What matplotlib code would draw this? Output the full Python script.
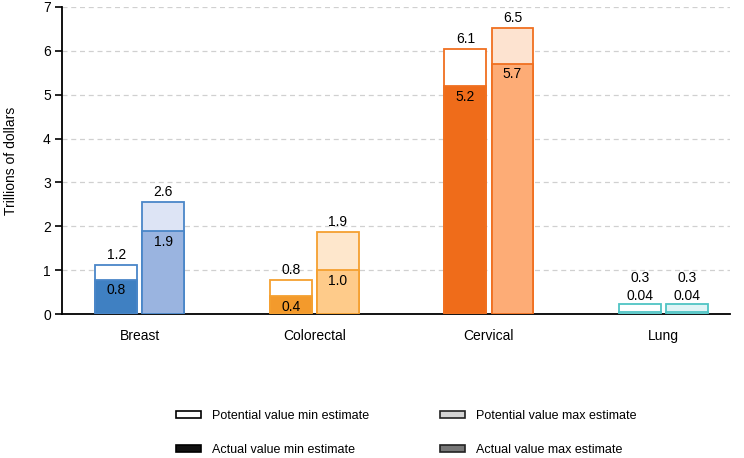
import matplotlib.pyplot as plt
from matplotlib.patches import Patch
import numpy as np

plt.rcParams["font.family"] = ["Liberation Sans Narrow", "Liberation Sans", "DejaVu Sans"]

categories = ["Breast", "Colorectal", "Cervical", "Lung"]
potential_min = [1.13, 0.78, 6.03, 0.23]
actual_min = [0.78, 0.41, 5.19, 0.04]
potential_max = [2.55, 1.87, 6.52, 0.23]
actual_max = [1.89, 1.00, 5.70, 0.04]
potential_min_labels = ["1.2", "0.8", "6.1", "0.3"]
actual_min_labels = ["0.8", "0.4", "5.2", "0.04"]
potential_max_labels = ["2.6", "1.9", "6.5", "0.3"]
actual_max_labels = ["1.9", "1.0", "5.7", "0.04"]

edge_colors = ["#4a86c8", "#f5a030", "#f07020", "#4fc4c4"]
min_pot_fill = ["#ffffff", "#ffffff", "#ffffff", "#ffffff"]
min_act_fill = ["#3f80c2", "#f39a2c", "#ef6c1a", "#ffffff"]
max_pot_fill = ["#dde4f5", "#fee7cc", "#fde3d0", "#e0f4f6"]
max_act_fill = ["#9ab4e0", "#fecb8a", "#fdac76", "#e0f4f6"]

fig = plt.figure(figsize=(7.44, 4.58), dpi=100)
ax = fig.add_axes([0.0833, 0.314, 0.8977, 0.671])

x = np.arange(len(categories))
width = 0.24
offset = 0.135
fs = 10


def draw_pair(xs, pot, act, pot_fill, act_fill, pot_lab, act_lab):
    ax.bar(xs, pot, width, color=pot_fill, edgecolor=edge_colors, linewidth=1.3, zorder=2)
    ax.bar(xs, act, width, color=act_fill, edgecolor=edge_colors, linewidth=1.3, zorder=3)
    for xi, p, a, pl, al in zip(xs, pot, act, pot_lab, act_lab):
        if a > 0.3:
            ax.text(xi, a - 0.08, al, ha="center", va="top", fontsize=fs, zorder=4)
            ax.text(xi, p + 0.07, pl, ha="center", va="bottom", fontsize=fs, zorder=4)
        else:
            ax.text(xi, p + 0.03, al, ha="center", va="bottom", fontsize=fs, zorder=4)
            ax.text(xi, p + 0.43, pl, ha="center", va="bottom", fontsize=fs, zorder=4)


draw_pair(x - offset, potential_min, actual_min, min_pot_fill, min_act_fill,
          potential_min_labels, actual_min_labels)
draw_pair(x + offset, potential_max, actual_max, max_pot_fill, max_act_fill,
          potential_max_labels, actual_max_labels)

ax.set_xlim(-0.446, 3.38)
ax.set_ylim(0, 7)
ax.set_yticks(range(0, 8))
ax.set_xticks(x, categories)
ax.tick_params(axis="x", length=0, pad=11, labelsize=fs)
ax.tick_params(axis="y", length=5, width=1.2, labelsize=fs, pad=3)
ax.set_ylabel("Trillions of dollars", fontsize=fs, labelpad=18)
ax.grid(axis="y", linestyle=(0, (4, 3)), color="#d0d0d0", linewidth=0.9, zorder=0)
ax.set_axisbelow(True)
ax.spines["top"].set_visible(False)
ax.spines["right"].set_visible(False)
ax.spines["left"].set_linewidth(1.3)
ax.spines["bottom"].set_linewidth(1.3)

handles = [
    Patch(facecolor="white", edgecolor="black", linewidth=1.2, label="Potential value min estimate"),
    Patch(facecolor="#111111", edgecolor="black", linewidth=1.2, label="Actual value min estimate"),
    Patch(facecolor="#d4d4d4", edgecolor="#222222", linewidth=1.2, label="Potential value max estimate"),
    Patch(facecolor="#777777", edgecolor="#222222", linewidth=1.2, label="Actual value max estimate"),
]
fig.legend(handles=handles, loc="upper left", bbox_to_anchor=(0.236, 0.104), ncol=2,
           frameon=False, fontsize=9, handlelength=2.0, handleheight=0.5,
           handletextpad=0.9, columnspacing=5.7, labelspacing=1.75, borderpad=0, borderaxespad=0)

fig.savefig("out.png", dpi=100)
